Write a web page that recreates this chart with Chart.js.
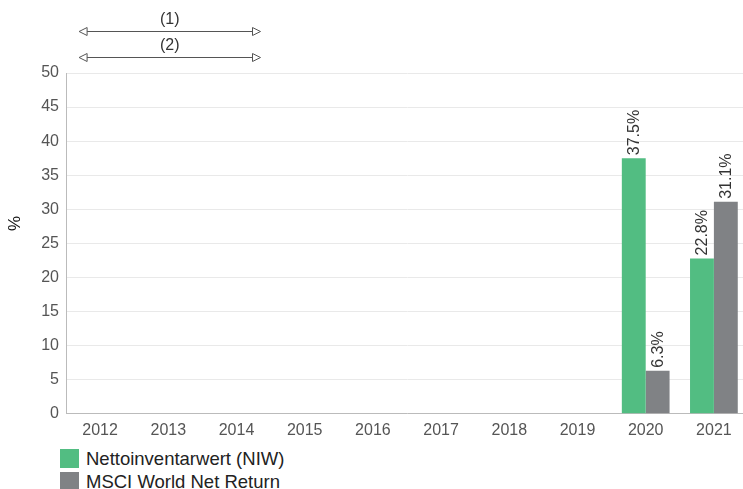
<!DOCTYPE html>
<html>
<head>
<meta charset="utf-8">
<script src="https://cdn.jsdelivr.net/npm/chart.js@4.4.1/dist/chart.umd.min.js"></script>
<style>
  body { margin: 0; background: #fff; overflow: hidden; font-family: "Liberation Sans", Arial, sans-serif; }
  #wrap { position: relative; width: 752px; height: 447px; }
  #legend { position: absolute; left: 60px; top: 447px; }
  .item { display: flex; align-items: center; height: 23px; font-size: 18.5px; color: #222; }
  .box { width: 19px; height: 19px; margin-right: 7px; }
</style>
</head>
<body>
<div id="wrap"><canvas id="myChart" width="752" height="447"></canvas></div>
<div id="legend"></div>
<script>
let years = ["2012", "2013", "2014", "2015", "2016", "2017", "2018", "2019", "2020", "2021"];
let navValues = [null, null, null, null, null, null, null, null, 37.5, 22.8];
let msciValues = [null, null, null, null, null, null, null, null, 6.3, 31.1];
let yTicks = [0, 5, 10, 15, 20, 25, 30, 35, 40, 45, 50];
let notes = ["(1)", "(2)"];
let yTitle = "%";

let green = "#52bd82";
let grey = "#808285";
let font = "'Liberation Sans', Arial, sans-serif";

// labels above bars, rotated
const barLabels = {
  id: "barLabels",
  afterDatasetsDraw(chart) {
    let ctx = chart.ctx;
    ctx.save();
    ctx.font = "16px " + font;
    ctx.fillStyle = "#333";
    ctx.textAlign = "left";
    ctx.textBaseline = "middle";
    chart.data.datasets.forEach((ds, i) => {
      chart.getDatasetMeta(i).data.forEach((bar, j) => {
        let v = ds.data[j];
        if (v == null) return;
        ctx.save();
        ctx.translate(bar.x + 1, bar.y - 3);
        ctx.rotate(-Math.PI / 2);
        ctx.fillText(v.toFixed(1) + "%", 0, 0);
        ctx.restore();
      });
    });
    ctx.restore();
  }
};

// period arrows above the chart + axis title
const periodArrows = {
  id: "periodArrows",
  afterDraw(chart) {
    let ctx = chart.ctx;
    let x = chart.scales.x;
    let x1 = x.getPixelForValue(0) - 21;
    let x2 = x.getPixelForValue(2) + 24;
    ctx.save();
    notes.forEach((n, i) => {
      let y = 31.5 + i * 26;
      ctx.strokeStyle = "#555";
      ctx.lineWidth = 1;
      ctx.beginPath();
      ctx.moveTo(x1 + 6, y);
      ctx.lineTo(x2 - 6, y);
      ctx.stroke();
      ctx.fillStyle = "#fff";
      ctx.beginPath();
      ctx.moveTo(x1, y);
      ctx.lineTo(x1 + 8, y - 4);
      ctx.lineTo(x1 + 8, y + 4);
      ctx.closePath();
      ctx.fill();
      ctx.stroke();
      ctx.beginPath();
      ctx.moveTo(x2, y);
      ctx.lineTo(x2 - 8, y - 4);
      ctx.lineTo(x2 - 8, y + 4);
      ctx.closePath();
      ctx.fill();
      ctx.stroke();
      ctx.fillStyle = "#333";
      ctx.font = "16px " + font;
      ctx.textAlign = "center";
      ctx.textBaseline = "middle";
      ctx.fillText(n, (x1 + x2) / 2, y - 12);
    });

    // y axis title, centred on the canvas height
    ctx.translate(15, chart.height / 2);
    ctx.rotate(-Math.PI / 2);
    ctx.fillStyle = "#111";
    ctx.font = "17px " + font;
    ctx.textAlign = "center";
    ctx.textBaseline = "middle";
    ctx.fillText(yTitle, 0, 0);
    ctx.restore();
  }
};

let ctx = document.getElementById("myChart").getContext("2d");

let myChart = new Chart(ctx, {
  type: "bar",
  data: {
    labels: years,
    datasets: [
      { label: "Nettoinventarwert (NIW)", data: navValues, backgroundColor: green },
      { label: "MSCI World Net Return", data: msciValues, backgroundColor: grey }
    ]
  },
  options: {
    responsive: false,
    animation: false,
    devicePixelRatio: 1,
    layout: { padding: { top: 73, right: 4, left: 0, bottom: 0 } },
    datasets: { bar: { categoryPercentage: 0.7, barPercentage: 1 } },
    plugins: { legend: { display: false }, tooltip: { enabled: false } },
    scales: {
      x: {
        grid: { display: false, drawTicks: false },
        border: { color: "#bbb" },
        ticks: { color: "#555", autoSkip: false, font: { size: 16, family: font }, padding: 7, maxRotation: 0 }
      },
      y: {
        min: 0,
        max: 50,
        afterBuildTicks: s => { s.ticks = yTicks.map(v => ({ value: v })); },
        afterFit: s => { s.width = 66; },
        grid: { color: "#e9e9e9", drawTicks: false },
        border: { color: "#bbb" },
        ticks: { color: "#555", autoSkip: false, font: { size: 16, family: font }, padding: 7 },
        title: { display: false }
      }
    }
  },
  plugins: [barLabels, periodArrows]
});

// legend stacked vertically
let legend = document.getElementById("legend");
myChart.data.datasets.forEach(ds => {
  let div = document.createElement("div");
  div.className = "item";
  div.innerHTML = `<span class="box" style="background:${ds.backgroundColor}"></span>${ds.label}`;
  legend.appendChild(div);
});
</script>
</body>
</html>
